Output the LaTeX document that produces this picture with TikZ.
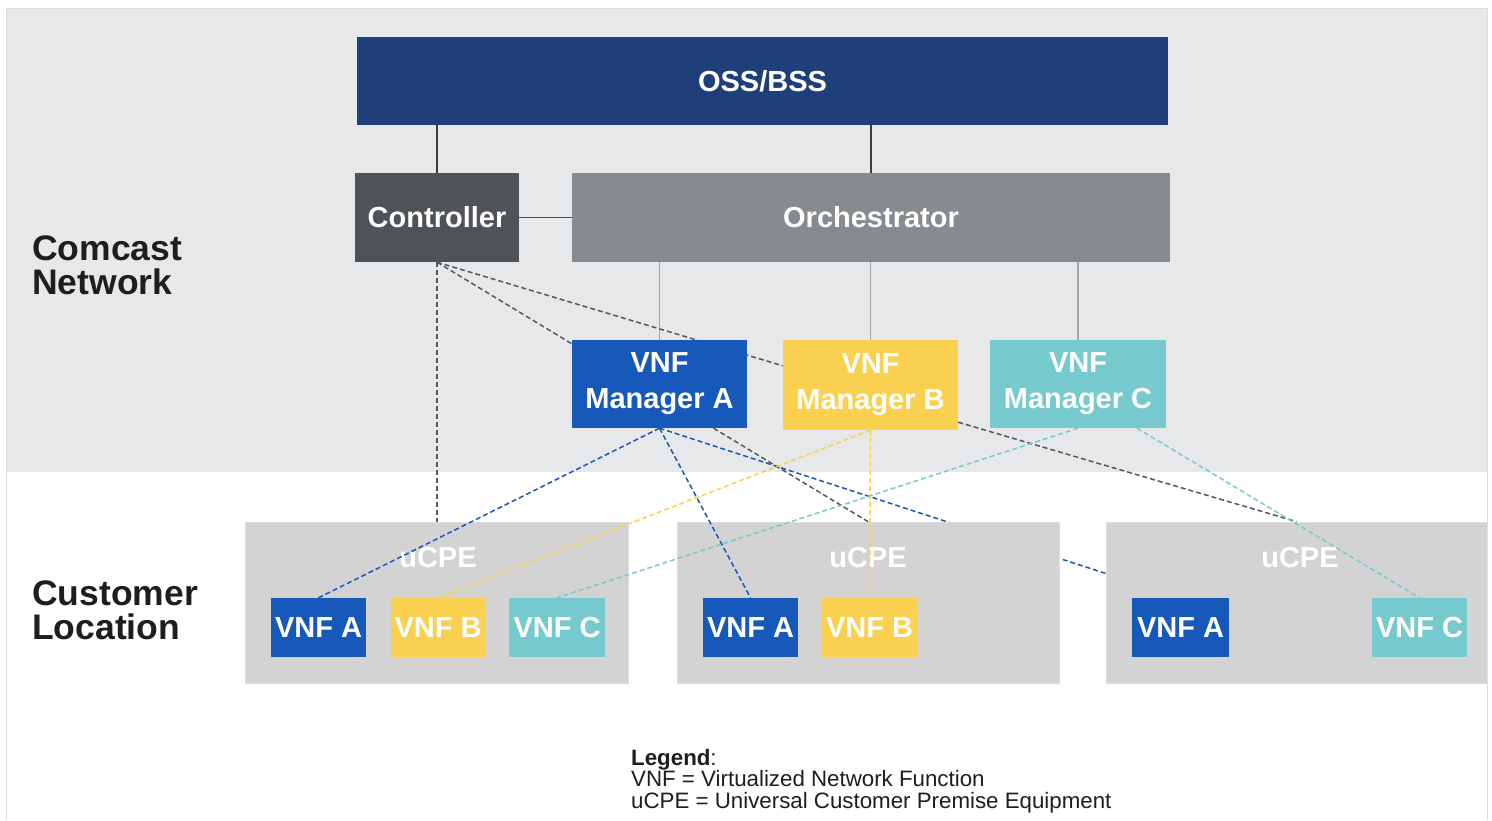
\documentclass[tikz,border=0pt]{standalone}
\usepackage{fontspec}
\setmainfont{Liberation Sans}
\usetikzlibrary{calc}
\pgfdeclarelayer{bg}
\pgfdeclarelayer{lowlines}
\pgfdeclarelayer{ucpe}
\pgfdeclarelayer{lines}
\pgfsetlayers{bg,lowlines,ucpe,lines,main}
\definecolor{bggray}{HTML}{E7E8EA}
\definecolor{framegray}{HTML}{DCDCDD}
\definecolor{ossblue}{HTML}{1F3F7A}
\definecolor{ctlgray}{HTML}{505356}
\definecolor{orchgray}{HTML}{878B8E}
\definecolor{vnfa}{HTML}{1759BA}
\definecolor{vnfb}{HTML}{F9D04F}
\definecolor{vnfc}{HTML}{76CACE}
\definecolor{ucpegray}{HTML}{D3D3D3}
\definecolor{ucpeedge}{HTML}{DDDDDD}
\definecolor{darkdash}{HTML}{555759}
\definecolor{solidline}{HTML}{3C3C3C}
\definecolor{orchline}{HTML}{A2A4A7}
\definecolor{labeltext}{HTML}{1E1E1E}
\begin{document}
\begin{tikzpicture}[x=1pt,y=-1pt,
  box/.style={rectangle, inner sep=0pt, text=white, align=center,
    font={\bfseries\fontsize{29}{36}\selectfont}},
  ucpebox/.style={rectangle, inner sep=0pt, fill=ucpegray, draw=ucpeedge, line width=0.8pt},
  ucpetext/.style={inner sep=0pt, text=white, font={\bfseries\fontsize{29}{36}\selectfont}},
  region/.style={inner sep=0pt, anchor=north west, align=left, text=labeltext,
    font={\bfseries\fontsize{35.5}{34}\selectfont}},
  ossline/.style={draw=solidline, line width=1.5pt},
  orchlink/.style={draw=orchline, line width=1.5pt},
  dsh/.style={dash pattern=on 5pt off 3pt, line width=1.5pt},
  darkd/.style={dsh, draw=darkdash},
  blued/.style={dsh, draw=vnfa},
  yelld/.style={dsh, draw=vnfb},
  cyand/.style={dsh, draw=vnfc}
]
\useasboundingbox (0,0) rectangle (1492,820);

\begin{pgfonlayer}{bg}
\fill[white] (0,0) rectangle (1492,820);
\fill[bggray] (6,8) rectangle (1488,472);
\draw[framegray, line width=1.3pt] (6.5,820) -- (6.5,8.5) -- (1487.5,8.5) -- (1487.5,820);
\end{pgfonlayer}

% top boxes
\node[box, fill=ossblue, minimum width=811pt, minimum height=88pt] (oss) at (762.5,81) {OSS/BSS};
\node[box, fill=ctlgray, minimum width=164pt, minimum height=89pt] (ctl) at (437,217.5) {Controller};
\node[box, fill=orchgray, minimum width=598pt, minimum height=89pt] (orch) at (871,217.5) {Orchestrator};

% managers
\node[box, fill=vnfa, minimum width=175pt, minimum height=88pt] (mA) at (659.5,384) {VNF\\Manager A};
\node[box, fill=vnfb, minimum width=175pt, minimum height=90pt] (mB) at (870.5,385) {\raisebox{-4pt}{VNF}\\\raisebox{-4pt}{Manager B}};
\node[box, fill=vnfc, minimum width=176pt, minimum height=88pt] (mC) at (1078,384) {\raisebox{-4pt}{VNF}\\\raisebox{-4pt}{Manager C}};

% uCPE boxes
\begin{pgfonlayer}{ucpe}
\node[ucpebox, minimum width=383pt, minimum height=161pt] (u1) at (436.5,602.5) {};
\node[ucpebox, minimum width=382pt, minimum height=161pt] (u2) at (868,602.5) {};
\node[ucpebox, minimum width=381pt, minimum height=161pt] (u3) at (1296.5,602.5) {};
\node[ucpetext] (u1t) at (438,558) {uCPE};
\node[ucpetext] (u2t) at (868,558) {uCPE};
\node[ucpetext] (u3t) at (1300,558) {uCPE};
\end{pgfonlayer}

% VNFs
\node[box, fill=vnfa, minimum width=95pt, minimum height=59pt] (a1) at (318.5,627.5) {VNF A};
\node[box, fill=vnfb, minimum width=94pt, minimum height=59pt] (b1) at (438,627.5) {VNF B};
\node[box, fill=vnfc, minimum width=96pt, minimum height=59pt] (c1) at (557,627.5) {VNF C};
\node[box, fill=vnfa, minimum width=95pt, minimum height=59pt] (a2) at (750.5,627.5) {VNF A};
\node[box, fill=vnfb, minimum width=95pt, minimum height=59pt] (b2) at (869.5,627.5) {VNF B};
\node[box, fill=vnfa, minimum width=97pt, minimum height=59pt] (a3) at (1180.5,627.5) {VNF A};
\node[box, fill=vnfc, minimum width=95pt, minimum height=59pt] (c3) at (1419.5,627.5) {VNF C};

% region labels
\node[region] (cn) at (32,236) {Comcast\\Network};
\node[region] (cl) at (32,581) {Customer\\Location};

% legend
\node[inner sep=0pt, anchor=north west, align=left, text=labeltext,
  font={\fontsize{22.3}{21.5}\selectfont}] (legend) at (631,749)
  {\textbf{Legend}:\\VNF = Virtualized Network Function\\uCPE = Universal Customer Premise Equipment};

% solid connectors
\begin{pgfonlayer}{lines}
\draw[ossline] (ctl.north) -- (ctl.north |- oss.south);
\draw[ossline] (orch.north) -- (orch.north |- oss.south);
\draw[draw=darkdash!90!black, line width=1.5pt] (ctl.east) -- (orch.west);
\draw[orchlink] (mA.north) -- (mA.north |- orch.south);
\draw[orchlink] (mB.north) -- (mB.north |- orch.south);
\draw[orchlink] (mC.north) -- (mC.north |- orch.south);

% controller dashed
\draw[darkd] (ctl.south) -- (ctl.south |- u1.north);
\draw[darkd] (ctl.south) -- ($(mA.north west)+(0,4)$);
\draw[darkd] (ctl.south) -- ($(mB.north west)+(0,26)$);
\draw[darkd] ($(mA.south)+(54,0)$) -- (u2.north);
\draw[darkd] ($(mB.south east)+(0,-8)$) -- (u3.north);

% manager A
\draw[blued] (mA.south) -- (a1.north);
\draw[blued] (mA.south) -- (a2.north);
% manager B
\draw[yelld] (mB.south) -- (b1.north);
\draw[yelld] (mB.south) -- (b2.north);
% manager C
\draw[cyand] (mC.south) -- (c1.north);
\draw[cyand] ($(mC.south)+(59,0)$) -- (c3.north);
\end{pgfonlayer}

\begin{pgfonlayer}{lowlines}
\draw[blued] (mA.south) -- (a3.north);
\end{pgfonlayer}
\end{tikzpicture}
\end{document}
